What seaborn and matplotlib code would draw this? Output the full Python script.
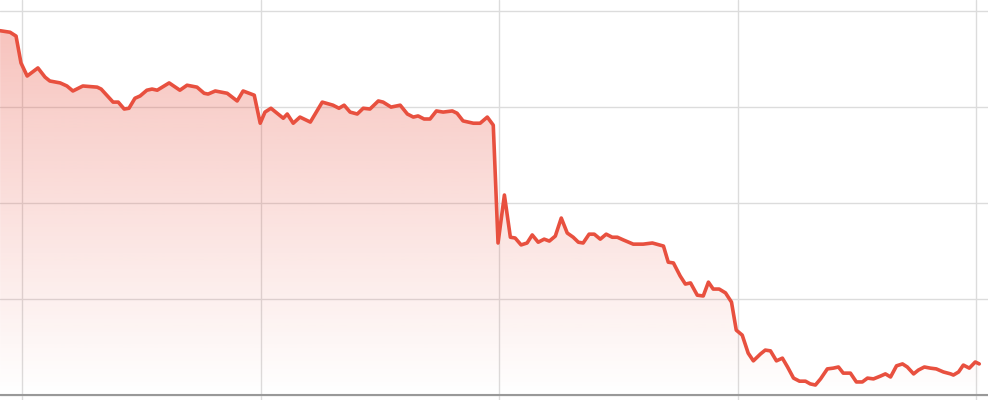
import numpy as np
import pandas as pd
import matplotlib
matplotlib.use("Agg")
import matplotlib.pyplot as plt
from matplotlib.colors import to_rgb
import seaborn as sns

# x positions (days) and values, gridlines every 60 days / 25 units
days = [-5.5, -3.0, -1.5, -0.25, 1.3, 4.0, 5.8, 7.0, 9.6, 11.3, 12.8, 15.3, 18.9, 19.9,
        22.9, 24.2, 25.7, 26.9, 28.4, 29.7, 31.4, 32.7, 34.0, 37.0, 39.7, 41.5, 44.0,
        45.8, 46.8, 48.6, 51.6, 54.1, 55.6, 58.4, 59.9, 61.1, 62.6, 65.7, 66.7, 68.2,
        69.9, 72.5, 75.5, 78.2, 79.7, 81.0, 82.5, 84.3, 85.8, 87.5, 89.6, 90.8, 92.8,
        95.1, 96.9, 98.4, 99.6, 101.1, 102.6, 104.2, 105.9, 108.2, 109.4, 110.9, 113.5,
        115.2, 117.0, 118.5, 119.7, 121.3, 122.8, 124.0, 125.5, 127.0, 128.3, 129.8,
        131.3, 132.6, 134.1, 135.6, 137.1, 138.6, 139.9, 141.1, 142.6, 143.9, 145.4,
        146.9, 148.4, 149.7, 151.2, 153.7, 156.2, 158.5, 161.3, 162.5, 163.8, 165.5,
        166.8, 168.1, 169.8, 171.3, 172.6, 173.8, 175.3, 176.9, 178.4, 179.6, 181.1,
        182.6, 183.9, 185.7, 186.9, 188.2, 189.7, 191.2, 192.5, 194.0, 195.5, 197.0,
        198.2, 199.5, 200.8, 202.5, 204.0, 205.3, 206.5, 208.3, 209.8, 211.3, 212.6,
        214.1, 215.8, 217.1, 218.4, 219.9, 221.4, 222.6, 224.2, 225.4, 226.9, 228.4,
        229.9, 231.7, 233.5, 234.2, 235.5, 236.7, 238.2, 239.7, 240.7]
values = [94.9, 94.5, 93.5, 86.5, 83.1, 85.2, 82.8, 81.8, 81.3, 80.5, 79.2, 80.5, 80.2, 79.7,
          76.3, 76.3, 74.5, 74.7, 77.3, 77.9, 79.4, 79.7, 79.4, 81.3, 79.4, 80.7, 80.2,
          78.6, 78.4, 79.2, 78.6, 76.6, 79.2, 78.1, 70.8, 73.7, 74.7, 72.1, 73.2, 70.8,
          72.4, 71.1, 76.3, 75.5, 74.7, 75.5, 73.7, 73.2, 74.7, 74.5, 76.6, 76.3, 75.0,
          75.5, 73.2, 72.4, 72.7, 71.9, 71.9, 74.0, 73.7, 74.0, 73.4, 71.4, 70.8,
          70.8, 72.4, 70.3, 39.6, 52.1, 41.1, 40.9, 39.1, 39.6, 41.7, 39.8,
          40.6, 40.1, 41.4, 46.1, 42.2, 41.1, 39.8, 39.6, 41.9, 41.9, 40.6,
          41.9, 41.1, 41.1, 40.4, 39.3, 39.3, 39.6, 38.8, 34.6, 34.4, 31.0,
          28.9, 29.2, 26.0, 25.8, 29.4, 27.6, 27.6, 26.6, 24.2, 16.9, 15.6,
          10.9, 8.9, 10.7, 11.7, 11.5, 8.9, 9.6, 7.3, 4.4, 3.6, 3.6,
          2.9, 2.6, 4.2, 6.8, 7.0, 7.3, 5.7, 5.7, 3.4, 3.4, 4.4,
          4.2, 4.9, 5.5, 4.7, 7.6, 8.1, 7.3, 5.5, 6.5, 7.3, 7.0,
          6.8, 6.0, 5.5, 5.2, 6.0, 7.8, 7.0, 8.6, 8.1]

df = pd.DataFrame({"day": days, "value": values})
line_color = "#e8503f"

sns.set_style("white")
fig = plt.figure(figsize=(9.88, 4), dpi=100)
ax = fig.add_axes([0, 0, 1, 1])

x0, x1 = -5.53, 242.9
y0, y1 = -1.3, 102.9

# gradient fill under the line
fill = ax.fill_between(df["day"], df["value"], 0, facecolor="none", edgecolor="none")
r, g, b = to_rgb(line_color)
grad = np.zeros((256, 1, 4))
grad[:, 0, 0] = r
grad[:, 0, 1] = g
grad[:, 0, 2] = b
grad[:, 0, 3] = np.linspace(0.36, 0.0, 256)
img = ax.imshow(grad, aspect="auto", extent=[x0, x1, 0, 100], origin="upper", zorder=1)
img.set_clip_path(fill.get_paths()[0], transform=ax.transData)

sns.lineplot(data=df, x="day", y="value", ax=ax, color=line_color, linewidth=2.6,
             zorder=3, sort=False)

ax.set_xlim(x0, x1)
ax.set_ylim(y0, y1)
ax.set_xticks([0, 60, 120, 180, 240])
ax.set_yticks([0, 25, 50, 75, 100])
ax.grid(True, color="#dcdcdc", linewidth=1)
ax.set_axisbelow(True)
ax.tick_params(length=0, labelbottom=False, labelleft=False)
ax.axhline(0, color="#999999", linewidth=1.5, zorder=2)
for s in ax.spines.values():
    s.set_visible(False)
ax.set_xlabel("")
ax.set_ylabel("")

fig.savefig("out.png", dpi=100)
